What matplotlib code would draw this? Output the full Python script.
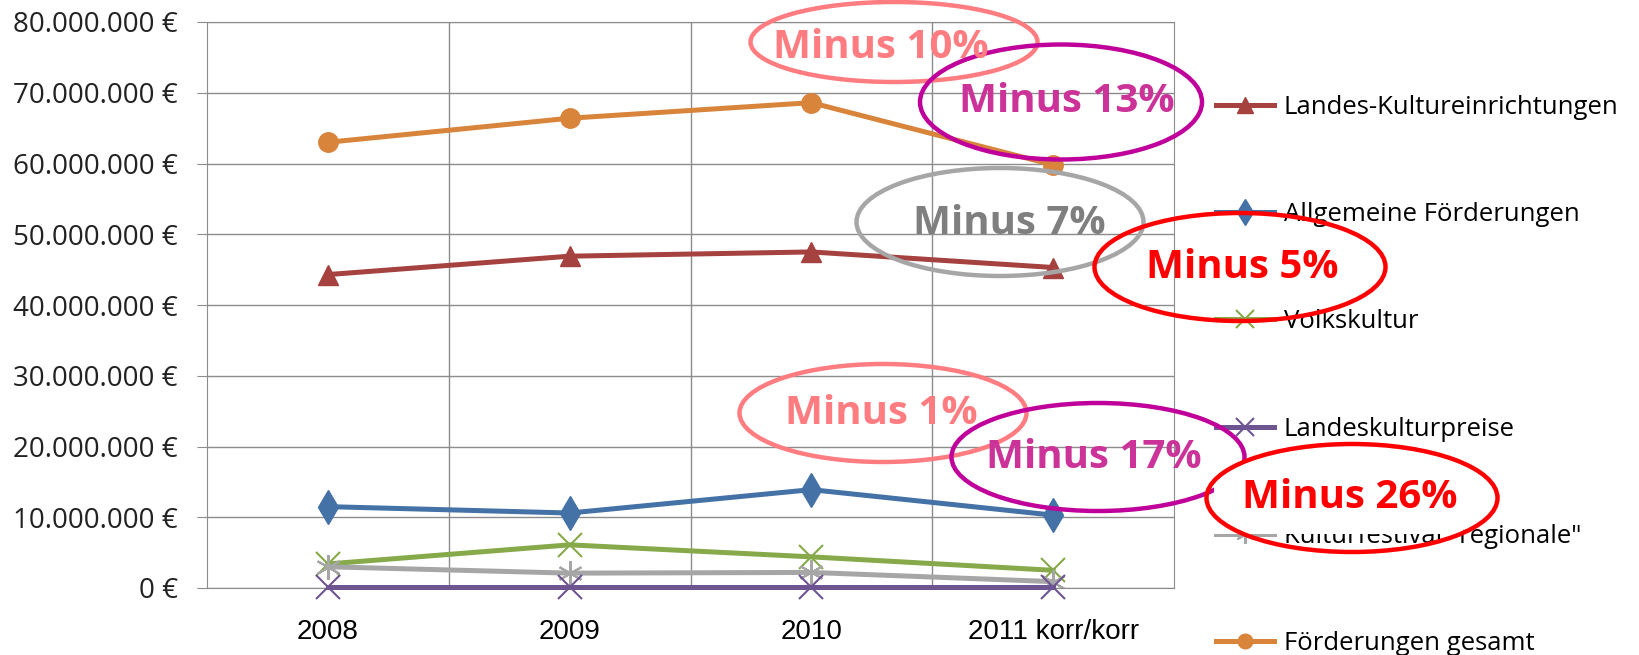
import matplotlib.pyplot as plt
from matplotlib.patches import Ellipse, Rectangle
from matplotlib.ticker import FuncFormatter, FixedLocator

# data (EUR)
years = ['2008', '2009', '2010', '2011 korr/korr']
landes_kultur = [44.3e6, 46.9e6, 47.5e6, 45.3e6]
allgemeine = [11.5e6, 10.6e6, 13.9e6, 10.3e6]
volkskultur = [3.4e6, 6.1e6, 4.4e6, 2.5e6]
landespreise = [0.1e6, 0.1e6, 0.1e6, 0.1e6]
regionale = [3.0e6, 2.1e6, 2.2e6, 0.9e6]
gesamt = [63.0e6, 66.4e6, 68.6e6, 59.8e6]

# annotations: text, colour of text, colour of ellipse, ellipse in pixels (x, y, w, h), text pos
notes = [
    ('Minus 10%', '#FF7C80', '#FF7C80', (894, 42, 287, 80), (881, 47)),
    ('Minus 13%', '#CC3399', '#C0009A', (1061, 102, 282, 115), (1067, 101)),
    ('Minus 7%', '#7F7F7F', '#A6A6A6', (1000, 222, 287, 108), (1009, 224)),
    ('Minus 5%', '#FF0000', '#FF0000', (1240, 267, 291, 108), (1242, 268)),
    ('Minus 1%', '#FF7C80', '#FF7C80', (883, 413, 287, 98), (881, 413)),
    ('Minus 17%', '#CC3399', '#C0009A', (1098, 457, 293, 108), (1094, 457)),
    ('Minus 26%', '#FF0000', '#FF0000', (1352, 498, 291, 108), (1350, 498)),
]

fig = plt.figure(figsize=(16.39, 6.55), dpi=100)
ax = fig.add_axes([207 / 1639, 1 - 588 / 655, (1174 - 207) / 1639, (588 - 22) / 655])

x = list(range(len(years)))
lw = 3.6
ax.plot(x, landes_kultur, color='#A5413E', lw=lw, marker='^', ms=15, label='Landes-Kultureinrichtungen')
ax.plot(x, allgemeine, color='#4471A6', lw=lw, marker='d', ms=17, label='Allgemeine Förderungen')
ax.plot(x, volkskultur, color='#86A94A', lw=lw, marker='x', ms=17, mew=1.5, label='Volkskultur')
ax.plot(x, landespreise, color='#6E5491', lw=lw, marker='x', ms=17, mew=1.5, label='Landeskulturpreise',
        clip_on=False, zorder=4)
ax.plot(x, regionale, color='#A6A6A6', lw=lw, marker=(6, 2, 0), ms=18, mew=1.5, label='Kulturfestival "regionale"')
ax.plot(x, gesamt, color='#D9843B', lw=lw, marker='o', ms=14, label='Förderungen gesamt')

ax.set_xlim(-0.5, len(years) - 0.5)
ax.set_ylim(0, 80e6)
ax.set_yticks([i * 10e6 for i in range(9)])
ax.yaxis.set_major_formatter(FuncFormatter(lambda v, p: f'{int(v):,} €'.replace(',', '.')))
ax.set_xticks(x)
ax.set_xticklabels(years, family='Liberation Sans', fontsize=20)
ax.xaxis.set_minor_locator(FixedLocator([0.5, 1.5, 2.5]))
ax.grid(True, which='major', axis='y', color='#8C8C8C', lw=1)
ax.grid(True, which='minor', axis='x', color='#8C8C8C', lw=1)
ax.tick_params(axis='x', which='both', length=0, pad=22)
ax.tick_params(axis='y', length=7, color='#8C8C8C', labelsize=20, pad=14)
for lbl in ax.get_yticklabels():
    lbl.set_family('Open Sans')
    lbl.set_color('#222222')
for s in ax.spines.values():
    s.set_color('#8C8C8C')

leg = ax.legend(loc='upper left', bbox_to_anchor=(1203 / 1639, 1 - 82 / 655),
                bbox_transform=fig.transFigure, frameon=False, prop={'family': 'Open Sans', 'size': 18.5},
                labelspacing=3.2, handlelength=2.25, handletextpad=0.4, borderpad=0, markerscale=0.75)

# overlay in pixel coordinates for the hand-drawn ellipses
ov = fig.add_axes([0, 0, 1, 1], zorder=5)
ov.set_xlim(0, 1639)
ov.set_ylim(655, 0)
ov.axis('off')
for txt, tc, ec, (cx, cy, w, h), (tx, ty) in notes:
    if txt == 'Minus 26%':
        # white text box of the last callout covers part of the legend
        ov.add_patch(Rectangle((1214, 462), 249, 72, fc='white', ec='none'))
    ov.add_patch(Ellipse((cx, cy), w, h, fill=False, ec=ec, lw=3.2))
    ov.text(tx, ty, txt, color=tc, fontsize=29, fontweight='bold', family='Open Sans',
            ha='center', va='center')

fig.savefig('out.png', dpi=100)
